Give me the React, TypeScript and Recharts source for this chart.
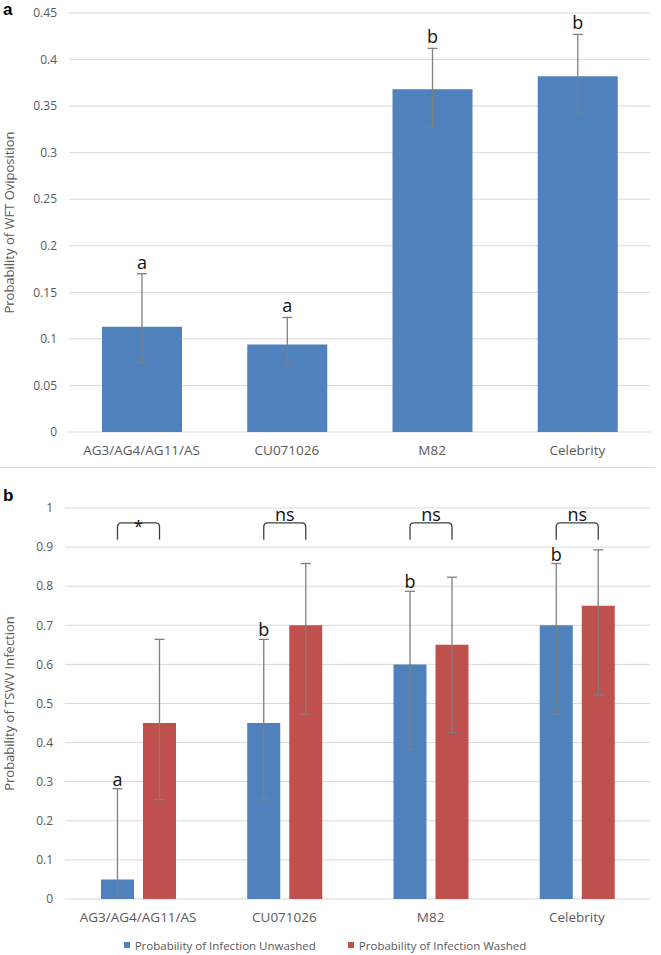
import { BarChart, Bar, XAxis, YAxis, CartesianGrid, ErrorBar, LabelList, Legend } from 'recharts';

const FONT = '"Open Sans", sans-serif';
const GRID = '#d9d9d9';
const TEXT = '#595959';
const BLUE = '#4f81bd';
const RED = '#c0504d';

// panel a
const cultivars = ['AG3/AG4/AG11/AS', 'CU071026', 'M82', 'Celebrity'];
const oviposition = [0.113, 0.094, 0.368, 0.382];
const ovipositionLow = [0.075, 0.072, 0.327, 0.342];
const ovipositionHigh = [0.17, 0.123, 0.412, 0.427];
const ovipositionLetters = ['a', 'a', 'b', 'b'];
const ticksA = [0, 0.05, 0.1, 0.15, 0.2, 0.25, 0.3, 0.35, 0.4, 0.45];

// panel b
const unwashed = [0.05, 0.45, 0.6, 0.7];
const unwashedLow = [0.008, 0.254, 0.382, 0.473];
const unwashedHigh = [0.282, 0.664, 0.787, 0.858];
const washed = [0.45, 0.7, 0.65, 0.75];
const washedLow = [0.254, 0.473, 0.426, 0.522];
const washedHigh = [0.664, 0.858, 0.823, 0.893];
const unwashedLetters = ['a', 'b', 'b', 'b'];
const significance = ['*', 'ns', 'ns', 'ns'];
const ticksB = [0, 0.1, 0.2, 0.3, 0.4, 0.5, 0.6, 0.7, 0.8, 0.9, 1];

const BRACKET_TOP = 0.962;
const BRACKET_LEG = 0.919;
const BAR_GAP_B = 9;

const dataA = cultivars.map((name, i) => ({
  name,
  value: oviposition[i],
  err: [oviposition[i] - ovipositionLow[i], ovipositionHigh[i] - oviposition[i]],
  high: ovipositionHigh[i],
  letter: ovipositionLetters[i],
}));

const dataB = cultivars.map((name, i) => ({
  name,
  unwashed: unwashed[i],
  unwashedErr: [unwashed[i] - unwashedLow[i], unwashedHigh[i] - unwashed[i]],
  washed: washed[i],
  washedErr: [washed[i] - washedLow[i], washedHigh[i] - washed[i]],
  high: unwashedHigh[i],
  letter: unwashedLetters[i],
  sig: significance[i],
}));

// eslint-disable-next-line @typescript-eslint/no-explicit-any
function box(p: any) {
  const vb = p.viewBox || {};
  return {
    x: Number(p.x ?? vb.x),
    y: Number(p.y ?? vb.y),
    width: Number(p.width ?? vb.width),
    height: Number(p.height ?? vb.height),
  };
}

// eslint-disable-next-line @typescript-eslint/no-explicit-any
function LetterA(p: any) {
  const d = dataA[p.index];
  if (!d) return null;
  const { x, y, width, height } = box(p);
  const base = y + height;
  const perUnit = height / d.value;
  const ty = base - d.high * perUnit - 5;
  return (
    <text x={x + width / 2} y={ty} textAnchor="middle" fontSize={18} fontFamily={FONT} fill="#111">
      {d.letter}
    </text>
  );
}

// eslint-disable-next-line @typescript-eslint/no-explicit-any
function LetterB(p: any) {
  const d = dataB[p.index];
  if (!d) return null;
  const { x, y, width, height } = box(p);
  const base = y + height;
  const perUnit = height / d.unwashed;
  const cx1 = x + width / 2;
  const cx2 = x + width + BAR_GAP_B + width / 2;
  const yt = base - BRACKET_TOP * perUnit;
  const yl = base - BRACKET_LEG * perUnit;
  const r = 4;
  const path = `M${cx1},${yl} L${cx1},${yt + r} Q${cx1},${yt} ${cx1 + r},${yt} L${cx2 - r},${yt} Q${cx2},${yt} ${cx2},${yt + r} L${cx2},${yl}`;
  return (
    <g>
      <text x={cx1} y={base - d.high * perUnit - 3} textAnchor="middle" fontSize={18} fontFamily={FONT} fill="#111">
        {d.letter}
      </text>
      <path d={path} fill="none" stroke="#404040" strokeWidth={1.3} />
      <text x={(cx1 + cx2) / 2} y={yt - (d.sig === '*' ? -9 : 2)} textAnchor="middle" fontSize={d.sig === '*' ? 17 : 18} fontFamily={FONT} fill="#111">
        {d.sig}
      </text>
    </g>
  );
}

function LegendB() {
  const item = (color: string, label: string) => (
    <div style={{ display: 'flex', alignItems: 'center', gap: 5 }}>
      <span style={{ width: 6, height: 6, background: color, display: 'inline-block' }} />
      <span>{label}</span>
    </div>
  );
  return (
    <div style={{ display: 'flex', justifyContent: 'center', gap: 32, fontFamily: FONT, fontSize: 11.5, color: TEXT, height: 20, alignItems: 'center' }}>
      {item(BLUE, 'Probability of Infection Unwashed')}
      {item(RED, 'Probability of Infection Washed')}
    </div>
  );
}

const tickStyle = { fontSize: 12, fill: TEXT, fontFamily: FONT };
const xTickStyle = { fontSize: 13.5, fill: TEXT, fontFamily: FONT };
const panelLabel = {
  position: 'absolute' as const,
  left: 3,
  fontFamily: '"Liberation Sans", Arial, sans-serif',
  fontWeight: 700,
  fontSize: 17,
  lineHeight: 'normal',
};

export default function App() {
  return (
    <div style={{ position: 'absolute', left: 0, top: 0, width: 661, height: 955, background: '#fff', fontFamily: FONT }}>
      <div style={{ ...panelLabel, top: 0 }}>a</div>
      <div style={{ ...panelLabel, top: 486 }}>b</div>
      <div style={{ position: 'absolute', left: 0, top: 467, width: 655, height: 1, background: GRID }} />

      <div style={{ position: 'absolute', left: 0, top: 0 }}>
        <BarChart width={661} height={470} data={dataA} margin={{ top: 13, right: 11, left: 0, bottom: 8 }}>
          <CartesianGrid horizontal vertical={false} stroke={GRID} />
          <XAxis dataKey="name" axisLine={false} tickLine={false} tick={xTickStyle} tickMargin={7} height={30} interval={0} />
          <YAxis
            domain={[0, 0.45]}
            ticks={ticksA}
            axisLine={false}
            tickLine={false}
            tick={tickStyle}
            tickMargin={6}
            width={69}
            label={{ value: 'Probability of WFT Oviposition', angle: -90, position: 'insideLeft', offset: 9, style: { textAnchor: 'middle', fontSize: 13, fill: TEXT, fontFamily: FONT } }}
          />
          <Bar dataKey="value" fill={BLUE} barSize={80} isAnimationActive={false}>
            <ErrorBar dataKey="err" width={5} stroke="#7f7f7f" strokeWidth={1.3} direction="y" />
            <LabelList dataKey="letter" content={<LetterA />} />
          </Bar>
        </BarChart>
      </div>

      <div style={{ position: 'absolute', left: 0, top: 470 }}>
        <BarChart width={661} height={485} data={dataB} margin={{ top: 38, right: 11, left: 0, bottom: 0 }} barGap={BAR_GAP_B}>
          <CartesianGrid horizontal vertical={false} stroke={GRID} />
          <XAxis dataKey="name" axisLine={false} tickLine={false} tick={xTickStyle} tickMargin={7} height={36} interval={0} />
          <YAxis
            domain={[0, 1]}
            ticks={ticksB}
            axisLine={false}
            tickLine={false}
            tick={tickStyle}
            tickMargin={6}
            width={65}
            label={{ value: 'Probability of TSWV Infection', angle: -90, position: 'insideLeft', offset: 9, style: { textAnchor: 'middle', fontSize: 13, fill: TEXT, fontFamily: FONT } }}
          />
          <Legend verticalAlign="bottom" height={20} content={<LegendB />} />
          <Bar dataKey="unwashed" fill={BLUE} barSize={33} isAnimationActive={false}>
            <ErrorBar dataKey="unwashedErr" width={5} stroke="#7f7f7f" strokeWidth={1.3} direction="y" />
            <LabelList dataKey="letter" content={<LetterB />} />
          </Bar>
          <Bar dataKey="washed" fill={RED} barSize={33} isAnimationActive={false}>
            <ErrorBar dataKey="washedErr" width={5} stroke="#7f7f7f" strokeWidth={1.3} direction="y" />
          </Bar>
        </BarChart>
      </div>
    </div>
  );
}
